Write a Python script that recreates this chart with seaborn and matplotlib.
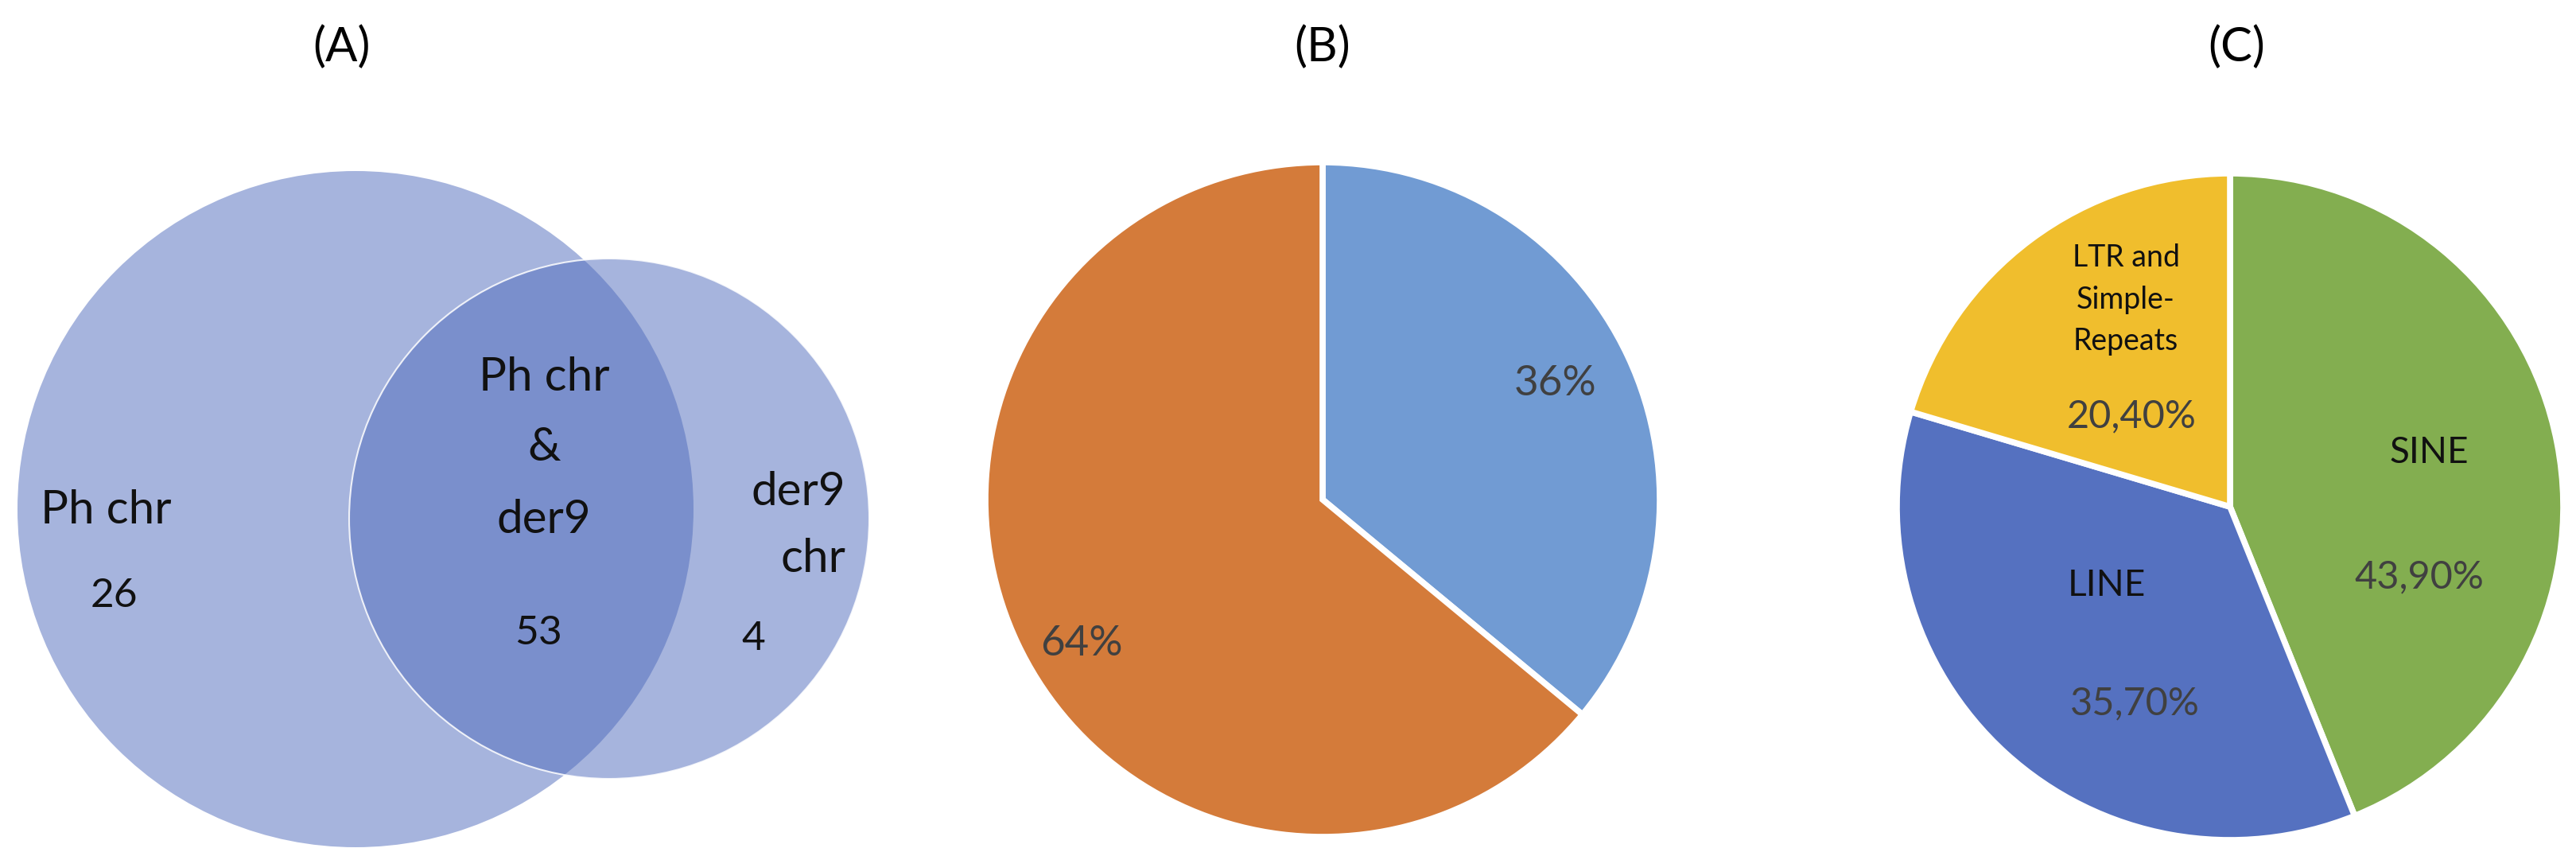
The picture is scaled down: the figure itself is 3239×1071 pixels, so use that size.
import matplotlib
matplotlib.use("Agg")
import matplotlib.pyplot as plt
from matplotlib.patches import Circle
import seaborn as sns

# ---------------- data ----------------
panel_titles = ["(A)", "(B)", "(C)"]

venn_set_labels = ["Ph chr", "der9\nchr"]
venn_overlap_label = "Ph chr\n&\nder9"
venn_counts = [26, 53, 4]          # only Ph chr, both, only der9 chr

b_values = [36, 64]
b_colors = ["#719BD3", "#D47B3A"]

c_categories = ["SINE", "LINE", "LTR and\nSimple-\nRepeats"]
c_values = [43.9, 35.7, 20.4]
c_colors = ["#83AE50", "#5571C0", "#F0BE2D"]

# ---------------- style ----------------
sns.set_theme(style="white")
plt.rcParams['font.family'] = ['Lato', 'DejaVu Sans']

W, H = 3239, 1071
fig = plt.figure(figsize=(W / 100, H / 100), dpi=100)
fig.patch.set_facecolor("white")

TXT = "#111111"
PCT = "#404040"


def pie_axes(cx, cy, r):
    ax = fig.add_axes([(cx - r) / W, (H - cy - r) / H, 2 * r / W, 2 * r / H])
    return ax


def to_data(px, py, cx, cy, r):
    return (px - cx) / r, (cy - py) / r


# ---------------- titles ----------------
title_x = [429, 1663, 2812]
for t, x in zip(panel_titles, title_x):
    fig.text(x / W, 1 - 77 / H, t, ha="center", va="baseline",
             fontsize=43, color="black")

# ---------------- (A) Venn ----------------
axA = fig.add_axes([0, 0, 1100 / W, 1])
axA.set_xlim(0, 1100)
axA.set_ylim(H, 0)
axA.axis("off")
base = (79 / 255, 107 / 255, 188 / 255)
axA.add_patch(Circle((447, 640), 425, facecolor=base, alpha=0.5, edgecolor="none"))
axA.add_patch(Circle((766, 652), 327, facecolor=base, alpha=0.5, edgecolor="none"))
axA.add_patch(Circle((766, 652), 327, fill=False, edgecolor="white", lw=1.5, alpha=0.85))

# left set
axA.text(133, 658, venn_set_labels[0], ha="center", va="baseline", fontsize=42, color=TXT)
axA.text(143, 763, str(venn_counts[0]), ha="center", va="baseline", fontsize=37, color=TXT)
# overlap
for line, y in zip(venn_overlap_label.split("\n"), [491, 579, 670]):
    axA.text(684, y, line, ha="center", va="baseline", fontsize=42, color=TXT)
axA.text(677, 810, str(venn_counts[1]), ha="center", va="baseline", fontsize=37, color=TXT)
# right set
for line, y in zip(venn_set_labels[1].split("\n"), [635, 719]):
    axA.text(1063, y, line, ha="right", va="baseline", fontsize=42, color=TXT)
axA.text(947, 817, str(venn_counts[2]), ha="center", va="baseline", fontsize=37, color=TXT)

# ---------------- (B) pie ----------------
cxB, cyB, rB = 1663, 628, 420
axB = pie_axes(cxB, cyB, rB)
wedges, texts, autotexts = axB.pie(
    b_values, colors=b_colors, startangle=90, counterclock=False,
    radius=1 + 4 / rB, autopct=lambda p: f"{p:.0f}%",
    wedgeprops=dict(edgecolor="white", linewidth=5.5),
    textprops=dict(fontsize=38, color=PCT))
axB.set_xlim(-1, 1)
axB.set_ylim(-1, 1)
axB.axis("off")
for t, (px, py) in zip(autotexts, [(1956, 497), (1360, 824)]):
    t.set_position(to_data(px, py, cxB, cyB, rB))
    t.set_ha("center")
    t.set_va("baseline")

# ---------------- (C) pie ----------------
cxC, cyC, rC = 2804, 637, 415
axC = pie_axes(cxC, cyC, rC)
wedges, texts, autotexts = axC.pie(
    c_values, colors=c_colors, startangle=90, counterclock=False,
    radius=1 + 4 / rC, autopct=lambda p: f"{p:.2f}%".replace(".", ","),
    wedgeprops=dict(edgecolor="white", linewidth=5.5),
    textprops=dict(fontsize=35, color=PCT))
axC.set_xlim(-1, 1)
axC.set_ylim(-1, 1)
axC.axis("off")
for t, (px, py) in zip(autotexts, [(3042, 739), (2684, 898), (2680, 537)]):
    t.set_position(to_data(px, py, cxC, cyC, rC))
    t.set_ha("center")
    t.set_va("baseline")

# category names
name_pos = [[(3054, 582)], [(2649, 749)], [(2673, 335), (2673, 388), (2673, 440)]]
name_size = [33, 33, 27]
for name, poss, fs in zip(c_categories, name_pos, name_size):
    for line, (px, py) in zip(name.split("\n"), poss):
        x, y = to_data(px, py, cxC, cyC, rC)
        axC.text(x, y, line, ha="center", va="baseline", fontsize=fs, color=TXT)

fig.savefig("out.png", dpi=100, facecolor="white")
